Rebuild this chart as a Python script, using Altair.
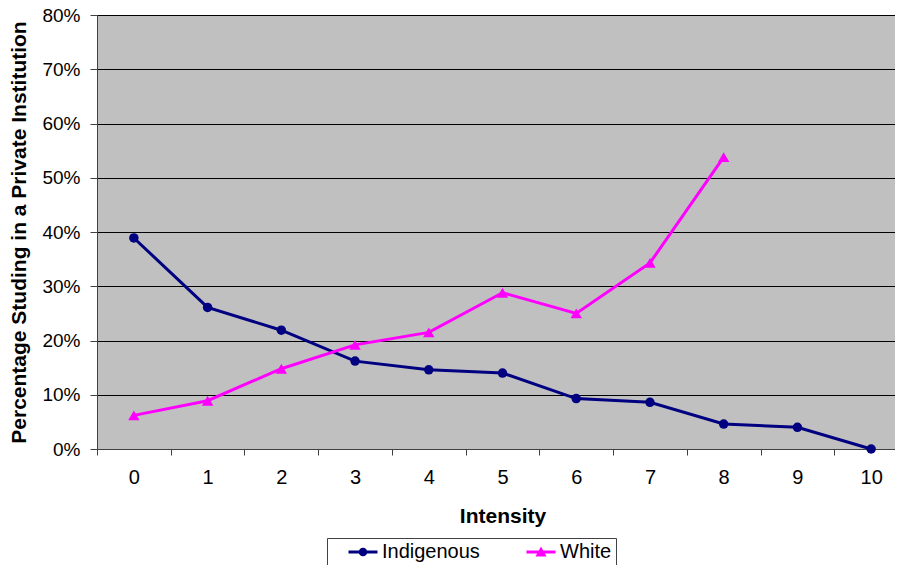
import altair as alt
import pandas as pd

# ---- data ----
intensity = ["0", "1", "2", "3", "4", "5", "6", "7", "8", "9", "10"]
indigenous = [38.9, 26.1, 21.9, 16.2, 14.6, 14.0, 9.3, 8.6, 4.6, 4.0, 0.0]
white = [6.2, 8.9, 14.8, 19.2, 21.5, 28.8, 25.0, 34.3, 53.8]
series_names = ["Indigenous", "White"]
series_colors = ["#000080", "#FF00FF"]

rows = []
for name, vals in zip(series_names, [indigenous, white]):
    for xi, v in zip(intensity, vals):
        rows.append({"x": xi, "series": name, "value": v / 100.0})
df = pd.DataFrame(rows)

FONT = "Liberation Sans"

x_enc = alt.X(
    "x:O",
    sort=intensity,
    bandPosition=0.5,
    scale=alt.Scale(type="band", paddingInner=0, paddingOuter=0),
    axis=alt.Axis(
        title="Intensity",
        labelAngle=0,
        tickBand="extent",
        grid=False,
        labelFontSize=20,
        labelFont=FONT,
        labelColor="black",
        labelPadding=12,
        tickSize=6,
        tickColor="#404040",
        domainColor="#404040",
        titleFont=FONT,
        titleFontSize=21,
        titleFontWeight="bold",
        titleColor="black",
        titleBaseline="middle",
        titleY=67,
    ),
)
y_enc = alt.Y(
    "value:Q",
    scale=alt.Scale(domain=[0, 0.8], nice=False, zero=True),
    axis=alt.Axis(
        title="Percentage Studing in a Private Institution",
        format=".0%",
        values=[0, 0.1, 0.2, 0.3, 0.4, 0.5, 0.6, 0.7, 0.8],
        grid=True,
        gridColor="black",
        gridWidth=1,
        labelFontSize=19,
        labelFont=FONT,
        labelColor="black",
        labelPadding=10,
        tickSize=7,
        tickColor="#404040",
        domainColor="#404040",
        titleFont=FONT,
        titleFontSize=21,
        titleFontWeight="bold",
        titleColor="black",
        titleBaseline="middle",
        titleX=-78,
    ),
)

base = alt.Chart(df)

layers = []
for name, col, shp, sz in zip(series_names, series_colors, ["circle", "triangle-up"], [90, 130]):
    sub = base.transform_filter(alt.datum.series == name)
    layers.append(sub.mark_line(strokeWidth=3, color=col).encode(x=x_enc, y=y_enc))
    layers.append(
        sub.mark_point(filled=True, shape=shp, size=sz, color=col, opacity=1).encode(x=x_enc, y=y_enc)
    )

# legend symbols: short line with the series marker (unit = 10 px at symbolSize 400)
circle_path = (
    "M-1.45,-0.15H-0.4V0.15H-1.45Z"
    "M0.4,-0.15H1.45V0.15H0.4Z"
    "M-0.43,0A0.43,0.43 0 1,1 0.43,0A0.43,0.43 0 1,1 -0.43,0Z"
)
triangle_path = (
    "M-1.45,-0.15H1.45V0.15H-1.45Z"
    "M0,-0.55L0.55,0.45H-0.55Z"
)

NBSP = "\u00a0"
legend = alt.Legend(
    title=None,
    orient="none",
    legendX=230,
    legendY=523,
    direction="horizontal",
    symbolSize=400,
    symbolStrokeWidth=0,
    symbolOffset=22,
    labelFont=FONT,
    labelFontSize=20,
    labelColor="black",
    labelOffset=9,
    labelExpr="datum.label == 'White' ? 'White" + NBSP * 2 + "' : datum.label",
    columnPadding=29,
    padding=4,
    strokeColor="#404040",
    fillColor="white",
)

legend_layer = base.transform_filter("false").mark_point(filled=True, opacity=1).encode(
    x=x_enc,
    y=y_enc,
    color=alt.Color("series:N", scale=alt.Scale(domain=series_names, range=series_colors), legend=legend),
    shape=alt.Shape("series:N", scale=alt.Scale(domain=series_names, range=[circle_path, triangle_path]), legend=legend),
)

chart = (
    alt.layer(*layers, legend_layer)
    .properties(
        width=811,
        height=434,
        autosize=alt.AutoSizeParams(type="none"),
        padding={"left": 89, "top": 7, "right": -13, "bottom": 116},
        background="white",
    )
    .configure_view(fill="#C0C0C0", strokeOpacity=0)
)

chart.save("out.html", embed_options={"renderer": "svg", "actions": False})
